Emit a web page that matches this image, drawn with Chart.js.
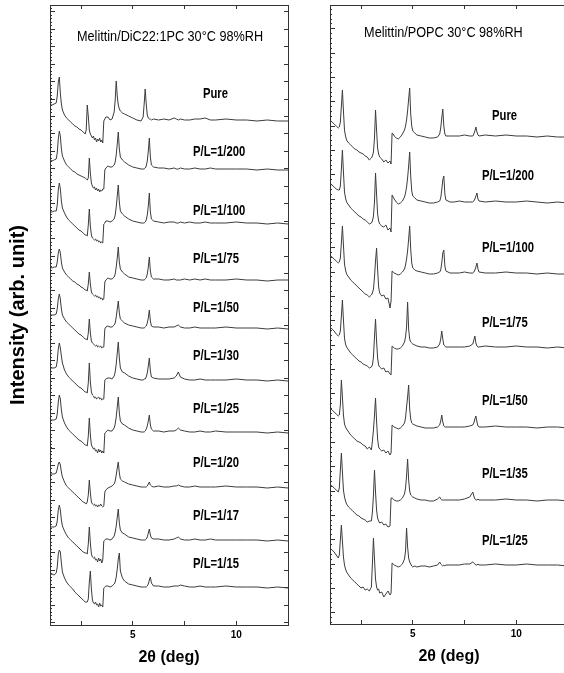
<!DOCTYPE html>
<html lang="en">
<head>
<meta charset="UTF-8">
<title>Melittin X-ray diffraction</title>
<script src="https://cdn.jsdelivr.net/npm/chart.js"></script>
<style>
  html, body { margin: 0; padding: 0; background: #fff; overflow: hidden; }
  #wrap { position: relative; width: 564px; height: 673px; overflow: hidden; }
  canvas { position: absolute; top: 0; }
  #left { left: 0; }
  #right { left: 300px; }
</style>
</head>
<body>
<div id="wrap">
  <canvas id="left" width="296" height="673"></canvas>
  <canvas id="right" width="276" height="673"></canvas>
</div>
<script>
// ---- left panel: Melittin/DiC22:1PC ----
const leftTitle = 'Melittin/DiC22:1PC 30°C 98%RH';
const leftNames = ['Pure', 'P/L=1/200', 'P/L=1/100', 'P/L=1/75', 'P/L=1/50',
                   'P/L=1/30', 'P/L=1/25', 'P/L=1/20', 'P/L=1/17', 'P/L=1/15'];
const leftTwoTheta = [
  1.00, 1.10, 1.20, 1.30, 1.35, 1.40, 1.45, 1.50, 1.55, 1.60,
  1.70, 1.80, 1.90, 2.00, 2.10, 2.20, 2.30, 2.40, 2.50, 2.60, 2.70,
  2.75, 2.80, 2.85, 2.90, 2.95, 3.00, 3.05, 3.10, 3.15, 3.20, 3.25, 3.30, 3.35, 3.40, 3.45, 3.50, 3.55,
  3.60, 3.65, 3.70, 3.80, 3.90, 4.00, 4.10, 4.15, 4.20, 4.25, 4.30, 4.35, 4.40, 4.50, 4.60,
  4.80, 5.00, 5.20, 5.40, 5.50, 5.55, 5.60, 5.65, 5.70, 5.75, 5.80, 5.85, 5.90, 6.00,
  6.25, 6.50, 6.75, 7.00, 7.10, 7.20, 7.30, 7.50, 7.75, 8.00, 8.25, 8.50, 8.75, 9.00, 9.50, 10.00, 10.50, 11.00, 11.50, 12.00, 12.50
];
// vertical offset of each trace (stacking), same order as leftNames
const leftBaseline = [505, 456, 402, 345, 297, 245, 193, 138, 85, 38];

// intensity of each trace relative to its own baseline
const leftPure = [
  15, 15, 16, 17, 24, 38, 43, 27, 16, 10,
  5, 2, 0, -2, -4, -6, -7, -9, -10, -12, -14,
  -10, 15, 4, -10, -14, -16, -18, -16, -20, -18, -22, -19, -21, -18, -22, -20, -23,
  -1, 1, 3, 3, 0, 1, 8, 20, 39, 24, 15, 11, 9, 7, 6,
  4, 2, 0, -1, 3, 16, 31, 16, 5, 2, 1, 1, 0, 1,
  0, 1, 0, 2, 1, 0, 1, 0, 0, 1, 1, 2, 0, 0, 1, 0, 0, -1, 0, -1, -1
];
const left200 = [
  9, 8, 9, 10, 16, 30, 38, 33, 20, 13,
  8, 4, 2, 0, -2, -3, -5, -6, -7, -8, -9,
  -10, -11, -9, 11, -4, -14, -17, -19, -18, -21, -19, -22, -20, -23, -21, -22, -20,
  -20, -1, 1, 3, 2, 2, 4, 7, 14, 25, 37, 20, 12, 9, 7,
  4, 2, 1, 0, 0, 0, 1, 3, 8, 18, 31, 12, 4, 2,
  1, 1, 0, 1, 0, 0, 1, 0, 0, 1, 0, 0, 1, 0, 0, 0, 0, -1, 0, -1, -1
];
const left100 = [
  11, 11, 12, 12, 18, 33, 40, 34, 22, 15,
  10, 6, 3, 1, -1, -3, -5, -7, -8, -10, -12,
  -12, -13, -2, 14, -3, -12, -15, -16, -17, -16, -18, -17, -19, -18, -20, -19, -20,
  -1, 0, 2, 2, 1, 2, 4, 8, 16, 27, 38, 21, 12, 9, 7,
  4, 2, 1, 0, 0, 0, 1, 3, 8, 17, 30, 11, 4, 2,
  1, 0, 1, 1, 0, 0, 1, 0, 1, 0, 0, 1, 0, 0, 0, 1, 0, 0, -1, 0, -1
];
const left75 = [
  13, 12, 13, 13, 18, 27, 31, 27, 18, 12,
  8, 5, 3, 1, -1, -2, -4, -5, -7, -8, -10,
  -10, -11, -4, 8, -4, -12, -14, -15, -16, -15, -17, -16, -18, -17, -19, -18, -20,
  -19, -2, 0, 2, 1, 1, 3, 6, 13, 22, 33, 18, 11, 8, 6,
  3, 2, 1, 0, 0, 0, 1, 2, 6, 13, 23, 9, 3, 1,
  1, 0, 0, 1, 0, 0, 0, 1, 0, 1, 0, 1, 0, 0, 0, 1, 0, 0, -1, 0, 0
];
const left50 = [
  13, 13, 13, 14, 19, 29, 34, 29, 19, 13,
  9, 6, 4, 2, 0, -2, -4, -6, -7, -9, -11,
  -11, -12, -5, 9, -5, -13, -15, -16, -17, -18, -17, -19, -18, -19, -18, -20, -19,
  -19, -1, 1, 2, 1, 1, 3, 5, 11, 19, 27, 15, 9, 7, 5,
  3, 2, 1, 0, 0, 0, 1, 2, 5, 10, 18, 7, 2, 1,
  1, 0, 1, 1, 2, 3, 1, 0, 0, 1, 0, 0, 0, 0, 1, 0, 0, 0, -1, 0, -1
];
const left30 = [
  12, 12, 12, 13, 19, 31, 37, 32, 24, 17,
  10, 6, 3, 1, -1, -3, -5, -7, -8, -10, -12,
  -12, -13, -3, 17, -2, -12, -15, -16, -18, -17, -19, -18, -17, -19, -18, -20, -19,
  -19, 0, 1, 2, 2, 1, 4, 8, 16, 27, 38, 22, 12, 8, 7,
  4, 2, 1, 0, 0, 1, 1, 3, 7, 14, 22, 9, 3, 2,
  1, 1, 1, 2, 4, 8, 3, 1, 0, 0, 1, 0, 0, 0, 0, 1, 0, 0, -1, 0, -1
];
const left25 = [
  12, 12, 12, 13, 18, 30, 37, 33, 22, 15,
  9, 5, 2, 0, -2, -4, -6, -8, -9, -11, -13,
  -13, -14, -4, 14, -3, -13, -15, -17, -16, -19, -18, -21, -17, -20, -18, -21, -19,
  -21, -1, 0, 2, 1, 1, 4, 8, 15, 25, 35, 19, 11, 8, 7,
  4, 2, 1, 0, 0, 0, 1, 3, 6, 11, 17, 7, 3, 1,
  1, 0, 1, 1, 2, 4, 2, 1, 0, 0, 1, 0, 0, 1, 0, 0, 0, 0, -1, 0, -1
];
const left20 = [
  13, 13, 13, 14, 18, 23, 25, 22, 15, 10,
  5, 1, -1, -3, -5, -7, -9, -11, -13, -15, -16,
  -17, -15, -8, 7, -6, -15, -17, -18, -17, -19, -18, -20, -18, -19, -17, -19, -20,
  -19, -5, -3, -1, 0, 1, 3, 6, 12, 19, 25, 14, 8, 6, 5,
  3, 2, 1, 0, 0, 0, 0, 0, 1, 3, 5, 2, 1, 0,
  1, 0, 0, 1, 1, 2, 1, 0, 0, 1, 0, 0, 0, 0, 1, 0, 0, 0, -1, 0, -1
];
const left17 = [
  13, 13, 13, 14, 19, 30, 35, 30, 20, 14,
  9, 5, 2, 0, -2, -4, -6, -8, -10, -12, -13,
  -13, -14, -4, 13, -3, -14, -17, -18, -17, -20, -19, -22, -18, -21, -19, -23, -20,
  -1, 0, 1, 1, 0, 1, 4, 8, 14, 23, 31, 17, 10, 7, 6,
  3, 2, 1, 0, 0, 0, 0, 1, 3, 7, 11, 5, 2, 1,
  1, 0, 0, 1, 2, 3, 1, 0, 0, 1, 0, 0, 1, 0, 0, 0, 0, 0, -1, 0, -1
];
const left15 = [
  12, 13, 12, 14, 20, 33, 37, 35, 24, 15,
  9, 5, 2, 0, -2, -5, -7, -9, -11, -13, -15,
  -15, -15, -12, 5, 16, -2, -13, -16, -17, -15, -18, -17, -20, -16, -19, -18, -20,
  -1, 0, 1, 1, 0, 1, 3, 5, 10, 18, 28, 34, 16, 9, 6,
  3, 2, 1, 0, 0, 0, 0, 0, 1, 3, 7, 10, 4, 1,
  1, 0, 0, 1, 1, 1, 2, 1, 0, 0, 1, 0, 0, 0, 1, 0, 0, 0, -1, 0, -1
];

// ---- right panel: Melittin/POPC ----
const rightTitle = 'Melittin/POPC 30°C 98%RH';
const rightNames = ['Pure', 'P/L=1/200', 'P/L=1/100', 'P/L=1/75', 'P/L=1/50', 'P/L=1/35', 'P/L=1/25'];
const rightTwoTheta = [
  1.00, 1.10, 1.20, 1.30, 1.40, 1.45, 1.50, 1.55, 1.60, 1.65, 1.70, 1.75, 1.80,
  1.90, 2.00, 2.10, 2.20, 2.30, 2.40, 2.50, 2.60, 2.70, 2.80, 2.90, 3.00,
  3.05, 3.10, 3.15, 3.20, 3.25, 3.30, 3.35, 3.40, 3.50, 3.60, 3.70, 3.80, 3.90, 3.95,
  4.00, 4.05, 4.10, 4.20, 4.30, 4.40, 4.50, 4.60, 4.65, 4.70, 4.75, 4.80, 4.85, 4.90, 4.95, 5.00,
  5.10, 5.20, 5.40, 5.60, 5.80, 6.00, 6.20, 6.30, 6.35, 6.40, 6.45, 6.50, 6.55, 6.60, 6.80,
  7.00, 7.25, 7.50, 7.75, 7.90, 7.95, 8.00, 8.05, 8.10, 8.15, 8.20, 8.50, 9.00, 9.50, 10.00, 10.50, 11.00, 11.50, 12.00, 12.50
];
const rightBaseline = [488, 422, 351, 277, 197, 124, 59];

const rightPure = [
  16, 14, 12, 10, 8, 9, 14, 30, 46, 25, 6, 0, -4,
  -7, -9, -11, -13, -14, -16, -17, -18, -20, -21, -24, -22,
  -20, -16, -2, 26, 6, -12, -18, -21, -23, -26, -24, -27, -25, -28,
  3, 2, 0, -2, -3, -1, 2, 6, 10, 16, 25, 37, 48, 22, 10, 5,
  3, 1, 0, -1, -2, -2, -1, 2, 8, 18, 27, 10, 2, 0, 0,
  0, 0, 1, 0, 0, 2, 5, 9, 4, 1, 0, 1, 0, 1, 0, 0, -1, 0, -1, -1
];
const right200 = [
  18, 17, 15, 13, 12, 12, 16, 33, 52, 30, 10, 4, 0,
  -3, -6, -8, -10, -12, -14, -15, -17, -18, -20, -22, -21,
  -19, -14, 0, 29, 8, -12, -19, -22, -24, -25, -23, -28, -26, -30,
  7, 5, 3, 0, -2, -1, 1, 5, 9, 15, 24, 36, 50, 26, 11, 6,
  4, 2, 1, 0, -1, -1, 0, 1, 4, 12, 22, 26, 8, 2, 0,
  0, 1, 0, 0, 0, 1, 3, 6, 9, 3, 1, 0, 1, 0, 0, 1, 0, -1, 0, -1
];
const right100 = [
  17, 16, 14, 12, 10, 11, 15, 30, 47, 28, 9, 3, -1,
  -4, -7, -9, -11, -13, -15, -17, -19, -21, -22, -24, -22,
  -20, -16, -4, 12, 25, 4, -14, -20, -23, -22, -26, -25, -35, -28,
  2, 1, 0, -1, -2, -1, 1, 4, 8, 14, 22, 34, 47, 24, 10, 5,
  3, 2, 1, 0, -1, -1, 0, 1, 3, 10, 20, 23, 7, 2, 0,
  0, 0, 1, 0, 0, 1, 3, 6, 10, 4, 1, 0, 0, 1, 0, 0, -1, 0, -1, -1
];
const right75 = [
  20, 18, 16, 13, 11, 12, 16, 31, 47, 27, 9, 3, 0,
  -3, -6, -8, -10, -12, -14, -15, -17, -18, -19, -21, -20,
  -18, -10, 10, 28, 6, -11, -18, -20, -22, -21, -25, -24, -27, -28,
  1, 0, -1, -2, -2, -1, 1, 5, 10, 20, 45, 18, 8, 5, 4, 3,
  2, 1, 0, 0, -1, -1, 0, 3, 8, 16, 8, 2, 1, 0, 0,
  0, 0, 0, 1, 3, 7, 11, 4, 1, 0, 0, 1, 0, 0, 1, 0, 0, -1, 0, -1
];
const right50 = [
  19, 17, 15, 13, 11, 12, 22, 47, 30, 12, 3, 0, -2,
  -5, -8, -10, -12, -14, -15, -16, -18, -19, -22, -20, -23,
  -14, -3, 12, 29, 6, -12, -20, -22, -24, -23, -26, -24, -28, -26,
  2, 1, 0, -1, -2, -1, 1, 4, 9, 20, 30, 42, 18, 8, 4, 3,
  2, 1, 0, -1, -1, -1, 0, 2, 6, 12, 5, 1, 0, 0, 0,
  0, 0, 0, 1, 2, 4, 8, 11, 5, 1, 0, 0, 1, 0, 0, 0, -1, 0, 0, -1
];
const right35 = [
  15, 14, 12, 10, 8, 12, 30, 47, 28, 10, 3, -1, -4,
  -7, -9, -11, -13, -15, -16, -18, -19, -20, -22, -21, -21,
  -12, 5, 30, 8, -10, -18, -21, -23, -22, -25, -24, -27, -26, 2,
  2, 1, 0, -1, -1, 0, 2, 6, 12, 24, 41, 20, 9, 5, 4, 3,
  2, 1, 0, 0, -1, -1, 1, 3, 1, 0, 0, 0, 0, 0, 0,
  0, 0, 1, 3, 8, 4, 1, 0, 0, 1, 0, 0, 0, 1, 0, 0, -1, 0, 0, -1
];
const right25 = [
  17, 15, 13, 10, 7, 10, 25, 40, 24, 8, 0, -4, -7,
  -10, -13, -15, -17, -19, -21, -23, -22, -25, -24, -26, -22,
  2, 27, 6, -14, -22, -25, -24, -28, -27, -32, -29, -26, -30, -28,
  2, 1, 0, -1, -2, -1, 1, 6, 14, 37, 18, 7, 3, 1, -1, -2,
  -1, -2, -1, -1, -2, -1, 0, 3, 1, 0, -1, 0, -1, 0, 0,
  0, 0, 1, 1, 3, 2, 1, 0, 0, 1, 0, 0, 1, 0, 0, 1, 0, 0, 0, -1
];

// x axis ticks (only 5 and 10 carry a label)
const xTicks = [2.5, 5, 7.5, 10];
const xTickLabels = ['', '5', '', '10'];

const FONT = '"Liberation Sans", Arial, sans-serif';
const LINE = '#3c3c3c';
const AXIS = '#333';

function steps(start, step, max) {
  const out = [];
  for (let v = start; v <= max + 0.001; v += step) out.push(v);
  return out;
}

function squeeze(ctx, text, x, y, sx, align) {
  ctx.save();
  ctx.translate(x, y);
  ctx.scale(sx, 1);
  ctx.textAlign = align;
  ctx.fillText(text, 0, 0);
  ctx.restore();
}

// panel title and trace names, placed through the chart's scales
const annotate = {
  id: 'annotate',
  afterDatasetsDraw(chart, args, o) {
    const { ctx, chartArea } = chart;
    const x = chart.scales.x, y = chart.scales.y;
    ctx.save();
    ctx.fillStyle = '#000';
    ctx.textBaseline = 'middle';
    ctx.font = '15px ' + FONT;
    squeeze(ctx, o.title, x.getPixelForValue(o.titleAt), chartArea.top + o.titleDrop, 0.845, 'center');
    ctx.font = 'bold 15px ' + FONT;
    o.names.forEach((name, k) => {
      const px = x.getPixelForValue(name === 'Pure' ? o.pureAt : o.labelAt);
      const py = y.getPixelForValue(o.baseline[k] + o.lift[k]);
      squeeze(ctx, name, px, py, 0.75, 'left');
    });
    ctx.restore();
  }
};

function panel(id, p) {
  const ticksAt = vals => scale => { scale.ticks = vals.map(v => ({ value: v })); };
  const datasets = p.series.map((s, k) => ({
    label: p.names[k],
    data: p.twoTheta.map((t, i) => ({ x: t, y: p.baseline[k] + s[i] })),
    borderColor: LINE,
    borderWidth: 1,
    pointRadius: 0,
    tension: 0,
    fill: false
  }));
  const yBase = { type: 'linear', min: 0, max: p.yMax, ticks: { display: false } };

  return new Chart(document.getElementById(id), {
    type: 'line',
    data: { datasets },
    plugins: [annotate],
    options: {
      responsive: false,
      animation: false,
      events: [],
      layout: { padding: p.padding },
      plugins: {
        legend: { display: false },
        tooltip: { enabled: false },
        annotate: {
          title: p.title, titleAt: p.titleAt, titleDrop: p.titleDrop,
          names: p.names, baseline: p.baseline, lift: p.lift,
          labelAt: p.labelAt, pureAt: p.pureAt
        }
      },
      scales: {
        x: {
          type: 'linear', position: 'bottom', min: 1, max: 12.5,
          afterBuildTicks: ticksAt(xTicks),
          afterFit: s => { s.height = 48; },
          ticks: {
            callback: (v, i) => xTickLabels[i],
            autoSkip: false, maxRotation: 0, padding: 8, color: '#000',
            font: { family: FONT, size: 10, weight: 'bold' }
          },
          grid: { drawOnChartArea: false, tickLength: -4, color: AXIS },
          border: { color: AXIS, width: 1 },
          title: {
            display: true, text: '2θ (deg)', color: '#000',
            font: { family: FONT, size: 16, weight: 'bold' },
            padding: { top: 0, bottom: 6 }
          }
        },
        xTop: {
          type: 'linear', position: 'top', min: 1, max: 12.5,
          afterBuildTicks: ticksAt(xTicks),
          afterFit: s => { s.height = 0; },
          ticks: { display: false },
          grid: { drawOnChartArea: false, tickLength: -4, color: AXIS },
          border: { color: AXIS, width: 1 }
        },
        y: Object.assign({}, yBase, {
          position: 'left', weight: 1,
          afterBuildTicks: ticksAt(steps(p.tickStart, p.tickStep, p.yMax)),
          afterFit: s => { s.width = p.yWidth; },
          grid: { drawOnChartArea: false, tickLength: -5, color: AXIS },
          border: { color: AXIS, width: 1 },
          title: {
            display: p.yTitle !== '', text: p.yTitle, color: '#000',
            font: { family: FONT, size: 20, weight: 'bold' },
            padding: { top: 6, bottom: 0 }
          }
        }),
        yMinor: Object.assign({}, yBase, {
          position: 'left', weight: 0,
          afterBuildTicks: ticksAt(steps(p.tickStart % (p.tickStep / 5), p.tickStep / 5, p.yMax)),
          afterFit: s => { s.width = 0; },
          grid: { drawOnChartArea: false, tickLength: -2, color: AXIS },
          border: { display: false }
        }),
        yRight: Object.assign({}, yBase, {
          position: 'right',
          afterBuildTicks: ticksAt(steps(p.tickStart, p.tickStep, p.yMax)),
          afterFit: s => { s.width = 0; },
          grid: { drawOnChartArea: false, tickLength: -4, color: AXIS },
          border: { color: AXIS, width: 1 }
        })
      }
    }
  });
}

panel('left', {
  title: leftTitle, titleAt: 6.8, titleDrop: 32,
  names: leftNames, twoTheta: leftTwoTheta, baseline: leftBaseline,
  series: [leftPure, left200, left100, left75, left50, left30, left25, left20, left17, left15],
  lift: [26, 17, 12, 21.5, 20, 24, 23, 24, 24, 23],
  labelAt: 7.91, pureAt: 8.39,
  yMax: 620, tickStart: 2.5, tickStep: 17.45,
  yWidth: 50, yTitle: 'Intensity (arb. unit)',
  padding: { left: 0, right: 8, top: 5, bottom: 0 }
});

panel('right', {
  title: rightTitle, titleAt: 6.48, titleDrop: 28,
  names: rightNames, twoTheta: rightTwoTheta, baseline: rightBaseline,
  series: [rightPure, right200, right100, right75, right50, right35, right25],
  lift: [20, 26, 25, 24, 26, 26, 24],
  labelAt: 8.34, pureAt: 8.83,
  yMax: 619, tickStart: 11.3, tickStep: 24.33,
  yWidth: 30, yTitle: '',
  padding: { left: 0, right: 8, top: 5, bottom: 1 }
});
</script>
</body>
</html>
